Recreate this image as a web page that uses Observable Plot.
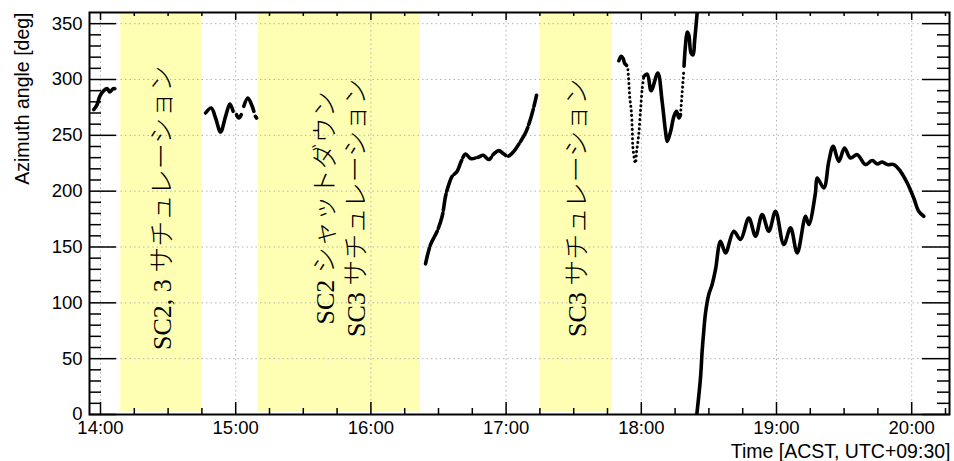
<!DOCTYPE html>
<html><head><meta charset="utf-8">
<script src="https://cdn.jsdelivr.net/npm/d3@7"></script>
<script src="https://cdn.jsdelivr.net/npm/@observablehq/plot@0.6"></script>
<style>html,body{margin:0;padding:0;background:#fff}#chart{width:954px;height:461px}</style>
</head><body><div id="chart"></div>
<script>
// ---- axis ticks / labels ----
const hourTicks = [14, 15, 16, 17, 18, 19, 20];
const hourLabels = ["14:00", "15:00", "16:00", "17:00", "18:00", "19:00", "20:00"];
const yTicks = [0, 50, 100, 150, 200, 250, 300, 350];
const xLabel = "Time [ACST, UTC+09:30]";
const yLabel = "Azimuth angle [deg]";

// ---- saturation / shutdown bands ----
const bandStart = ["14:09", "15:10", "17:15"];
const bandEnd = ["14:45", "16:22", "17:47"];
const bandLabels = ["SC2, 3 サチュレーション", "SC2 シャットダウン\nSC3 サチュレーション", "SC3 サチュレーション"];

// ---- azimuth series: [time in hours, azimuth deg] ----
const segA = [[13.950, 273], [13.975, 277.5], [13.995, 285], [14.024, 290], [14.050, 291.8], [14.069, 288.8], [14.094, 291.8], [14.106, 291.8]];
const segB1 = [[14.777, 270], [14.819, 274.4], [14.851, 265.5], [14.888, 253], [14.925, 267], [14.957, 278], [14.981, 271.5]];
const segB2 = [[15.006, 268.5], [15.023, 265.5], [15.041, 268.5]];
const segB3 = [[15.060, 276], [15.090, 283.4], [15.122, 276], [15.134, 271.5]];
const segB4 = [[15.146, 267], [15.154, 265.5]];
const segC = [[16.404, 134.9], [16.441, 152.2], [16.490, 164.1], [16.527, 177.5], [16.552, 195.4], [16.576, 205.9], [16.601, 213.3], [16.638, 217.8], [16.668, 226.7], [16.700, 233.3], [16.737, 229.2], [16.791, 230.3], [16.831, 232.1], [16.872, 228.3], [16.909, 233.3], [16.946, 236.3], [16.983, 233.3], [17.013, 231.2], [17.057, 235.6], [17.107, 244.6], [17.143, 252], [17.175, 262.5], [17.200, 273], [17.225, 285.8]];
const segDs = [[17.834, 316.8], [17.851, 320.7], [17.866, 318.6], [17.876, 314.7], [17.891, 312.6]];
const segDdrop = [[17.901, 308.8], [17.908, 296.8], [17.915, 283.4], [17.925, 273], [17.933, 255], [17.937, 240], [17.952, 226.7], [17.957, 225], [17.964, 234], [17.981, 250.6], [17.994, 271.5], [18.007, 292.3], [18.019, 302.8]];
const segDm = [[18.019, 302.8], [18.044, 304.8], [18.073, 290], [18.122, 305.7], [18.154, 280.4], [18.179, 253.6], [18.192, 244.6], [18.217, 253.6], [18.241, 267], [18.260, 271.5], [18.278, 265.5], [18.290, 268.5]];
const segDrise = [[18.290, 268.5], [18.314, 307.2]];
const segDn = [[18.316, 312], [18.327, 331], [18.339, 342.4], [18.351, 340], [18.368, 323.6], [18.383, 322], [18.394, 334], [18.412, 358], [18.418, 366]];
const segE = [[18.411, 0.5], [18.438, 32.9], [18.450, 56.8], [18.462, 74.7], [18.475, 91], [18.499, 107.5], [18.524, 116.5], [18.549, 129.9], [18.586, 155.2], [18.623, 144.7], [18.684, 164.1], [18.734, 156.7], [18.795, 176], [18.845, 159.7], [18.894, 179.1], [18.943, 164.1], [18.993, 182], [19.054, 152.2], [19.104, 167.1], [19.153, 144.7], [19.215, 177.5], [19.239, 170.1], [19.288, 198.4], [19.301, 211.8], [19.350, 202.9], [19.387, 226.7], [19.419, 240.2], [19.461, 226.7], [19.503, 238.6], [19.547, 229.7], [19.597, 232.7], [19.658, 223.8], [19.708, 227.4], [19.745, 224.3], [19.782, 226.1], [19.819, 223.8], [19.868, 223.8], [19.917, 217.8], [19.967, 207.3], [20.015, 193.9], [20.052, 182], [20.089, 177.5]];

// ---- build tables ----
const hm = s => { const [h, m] = s.split(":").map(Number); return h + m / 60; };
const toRows = (segs) => segs.flatMap(([name, pts]) => pts.map(([t, az]) => ({seg: name, t, az})));
const solidRows = toRows([["A", segA], ["B1", segB1], ["B2", segB2], ["B3", segB3], ["B4", segB4], ["Ds", segDs], ["Dm", segDm], ["Dn", segDn], ["E", segE]]);
const dashRows = toRows([["C", segC]]);
const dotRows = toRows([["Dd", segDdrop], ["Dr", segDrise]]);
const bands = bandStart.map((s, i) => ({x1: hm(s), x2: hm(bandEnd[i]), mid: (hm(s) + hm(bandEnd[i])) / 2, label: bandLabels[i]}));

const xDomain = [13.9186, 20.2796];
const minorT = d3.range(14, 20.26, 0.25).filter(d => Math.abs(d - Math.round(d)) > 1e-6);
const minorY = d3.range(10, 360, 10).filter(d => d % 50 !== 0);

const plot = Plot.plot({
  width: 954, height: 461,
  marginLeft: 89, marginRight: 5, marginTop: 12, marginBottom: 47,
  x: {domain: xDomain},
  y: {domain: [0, 360]},
  style: {fontFamily: "'Liberation Sans', Arial, Helvetica, sans-serif", fontSize: "18.5px", background: "white", color: "black"},
  marks: [
    Plot.rectY(bands, {x1: "x1", x2: "x2", y1: 2.5, y2: 360, fill: "#ffffb3"}),
    Plot.ruleX(hourTicks, {x: d => d, stroke: "#b4b4b4", strokeDasharray: "1.5,3"}),
    Plot.ruleY(yTicks.filter(d => d > 0), {y: d => d, stroke: "#b4b4b4", strokeDasharray: "1.5,3"}),
    Plot.text(bands, {x: "mid", y: 185, text: "label", rotate: -90, textAnchor: "middle", lineAnchor: "middle", lineHeight: 1.2, fontSize: 26, fontWeight: 300, fontFamily: "'Liberation Serif', 'Noto Sans CJK JP', serif", fill: "black"}),
    Plot.line(solidRows, {x: "t", y: "az", z: "seg", stroke: "black", strokeWidth: 3.6, curve: "catmull-rom", clip: true}),
    Plot.line(dashRows, {x: "t", y: "az", z: "seg", stroke: "black", strokeWidth: 3.6, curve: "catmull-rom", strokeDasharray: "16,3", clip: true}),
    Plot.line(dotRows, {x: "t", y: "az", z: "seg", stroke: "black", strokeWidth: 3, curve: "catmull-rom", strokeDasharray: "0.1,4.5", strokeLinecap: "round", clip: true}),
    // bottom ticks
    Plot.ruleX(hourTicks, {x: d => d, y1: 0, y2: 0, insetBottom: 12, stroke: "black", strokeWidth: 1.5}),
    Plot.ruleX(minorT, {x: d => d, y1: 0, y2: 0, insetBottom: 6, stroke: "black", strokeWidth: 1.5}),
    // top ticks
    Plot.ruleX(hourTicks, {x: d => d, y1: 360, y2: 360, insetBottom: -8, stroke: "black", strokeWidth: 1.5}),
    Plot.ruleX(minorT, {x: d => d, y1: 360, y2: 360, insetBottom: -4, stroke: "black", strokeWidth: 1.5}),
    // left ticks
    Plot.ruleY(yTicks, {y: d => d, x1: xDomain[0], x2: xDomain[0], insetRight: -27, stroke: "black", strokeWidth: 1.5}),
    Plot.ruleY(minorY, {y: d => d, x1: xDomain[0], x2: xDomain[0], insetRight: -12, stroke: "black", strokeWidth: 1.5}),
    // right ticks
    Plot.ruleY(yTicks, {y: d => d, x1: xDomain[1], x2: xDomain[1], insetLeft: -27, stroke: "black", strokeWidth: 1.5}),
    Plot.ruleY(minorY, {y: d => d, x1: xDomain[1], x2: xDomain[1], insetLeft: -12, stroke: "black", strokeWidth: 1.5}),
    Plot.frame({stroke: "black", strokeWidth: 2}),
    Plot.axisX(hourTicks, {tickSize: 0, tickPadding: 6, tickFormat: d => hourLabels[hourTicks.indexOf(d)], label: null}),
    Plot.axisY(yTicks, {tickSize: 0, tickPadding: 7, label: null}),
    Plot.text([yLabel], {frameAnchor: "top-left", rotate: -90, textAnchor: "end", lineAnchor: "middle", dx: -67, fontSize: 19.5, fill: "black"}),
    Plot.text([xLabel], {frameAnchor: "bottom-right", textAnchor: "end", lineAnchor: "bottom", dx: 1, dy: 43, fontSize: 19.5, fill: "black"})
  ]
});
document.getElementById("chart").appendChild(plot);
</script>
</body></html>
